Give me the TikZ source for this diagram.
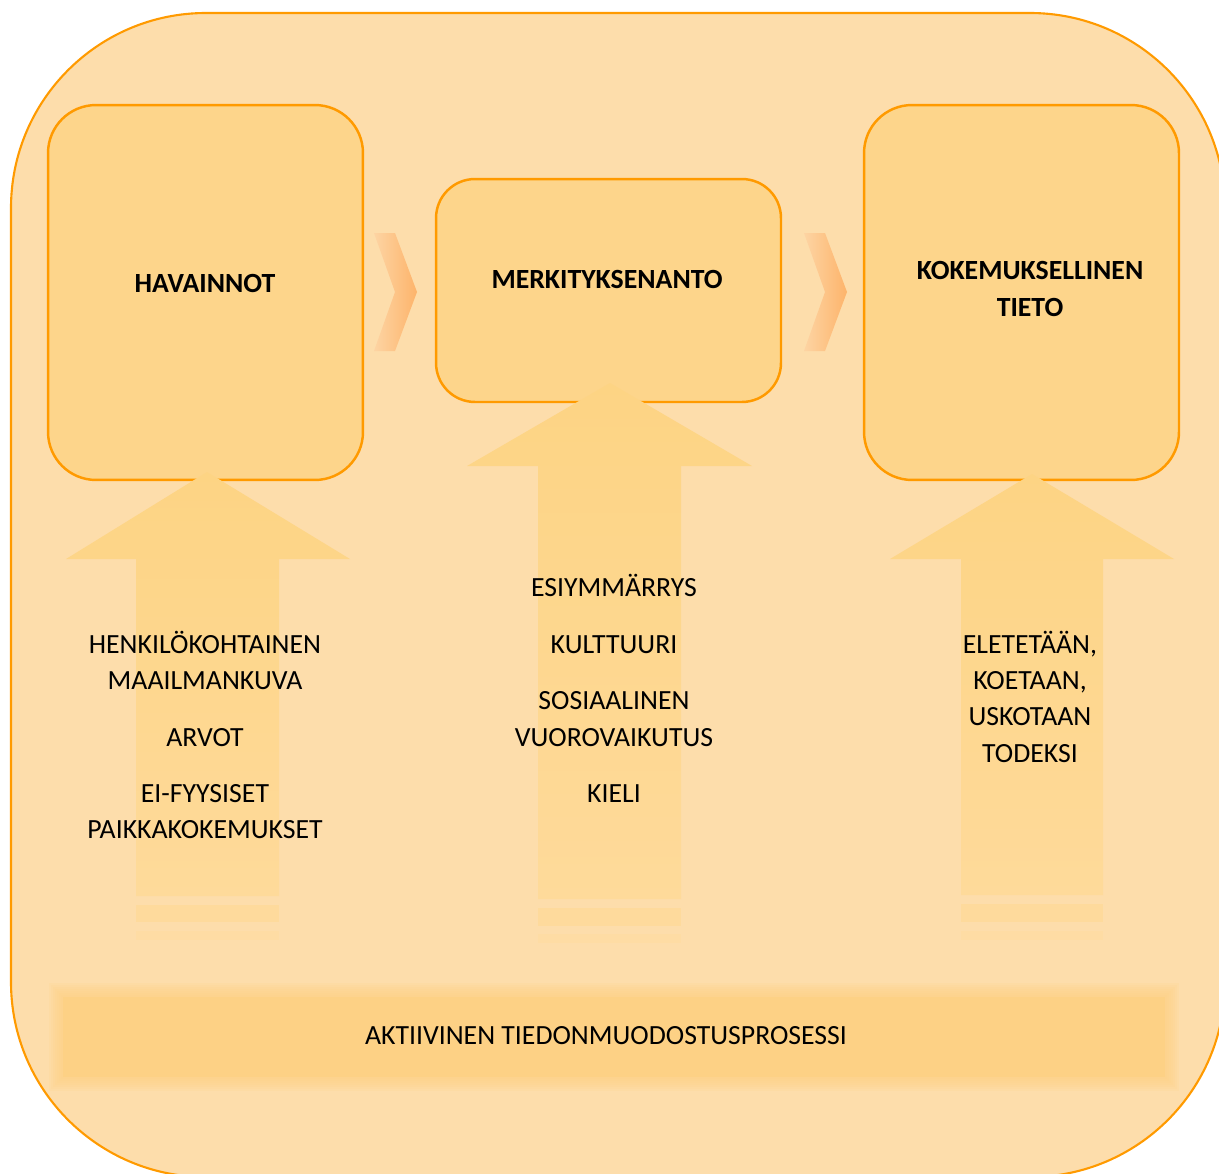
\documentclass[tikz,border=0pt]{standalone}
\usepackage{fontspec}
\setmainfont{Carlito}
\definecolor{peach}{HTML}{FDDDAB}
\definecolor{panelfill}{HTML}{FDD58B}
\definecolor{rim}{HTML}{FF9A00}
\definecolor{shafttop}{HTML}{FDD484}
\definecolor{shaftlow}{HTML}{FEDA9A}
\definecolor{stripeA}{HTML}{FEDA9C}
\definecolor{stripeB}{HTML}{FEDCA4}
\definecolor{barfill}{HTML}{FDD185}
\definecolor{chevL}{HTML}{FDD4A3}
\definecolor{chevR}{HTML}{FDB46B}
\begin{document}
\begin{tikzpicture}[x=0.02cm, y=-0.02cm,
    panel/.style={draw=rim, line width=1.4pt, fill=panelfill, rounded corners=0.96cm, inner sep=0},
    title/.style={font=\fontsize{15.8}{19}\selectfont\bfseries, anchor=base, inner sep=0},
    item/.style={font=\fontsize{15.8}{19}\selectfont, anchor=base, inner sep=0},
    upshaft/.style={top color=shafttop, bottom color=shaftlow, draw=none},
    chevron/.style={left color=chevL, right color=chevR, draw=none}]
        \useasboundingbox (0,0) rectangle (1219,1173);
        \clip (0,0) rectangle (1219,1173);
        % frame
        \draw[draw=rim, line width=1.2pt, fill=peach, rounded corners=3.9cm] (11,13) rectangle (1225,1177);
        % boxes
        \node[panel, minimum width=6.3cm, minimum height=7.5cm] (havbox) at (205.5,292.5) {};
        \node[panel, minimum width=6.9cm, minimum height=4.46cm, rounded corners=0.78cm] (merbox) at (608.5,290.5) {};
        \node[panel, minimum width=6.3cm, minimum height=7.5cm] (kokbox) at (1021.5,292.5) {};
        % chevrons
        \shade[chevron] (374,233) -- (395,233) -- (417,292) -- (395,351) -- (374,351) -- (395,292) -- cycle;
        \shade[chevron] (804,233) -- (825,233) -- (847,292) -- (825,351) -- (804,351) -- (825,292) -- cycle;
        % arrows
        \shade[upshaft] (207,472) -- (350,559) -- (279,559) -- (279,896) -- (136,896) -- (136,559) -- (66,559) -- cycle;
        \fill[stripeA] (136,905) rectangle (279,922);
        \fill[stripeB] (136,931) rectangle (279,940);
        \shade[upshaft] (610,383) -- (752,466) -- (681,466) -- (681,899) -- (538,899) -- (538,466) -- (467,466) -- cycle;
        \fill[stripeA] (538,908) rectangle (681,926);
        \fill[stripeB] (538,934) rectangle (681,943);
        \shade[upshaft] (1032,474) -- (1174,559) -- (1103,559) -- (1103,895) -- (961,895) -- (961,559) -- (890,559) -- cycle;
        \fill[stripeA] (961,904) rectangle (1103,922);
        \fill[stripeB] (961,931) rectangle (1103,940);
        % bar
        \foreach \d in {14,12,10,8,6,4,2}
            \fill[barfill, opacity=0.16] (63-\d,997-\d) rectangle (1165+\d,1077+\d);
        \fill[barfill] (63,997) rectangle (1165,1077);
        % titles
        \node[title] (havainnot) at (205,292) {HAVAINNOT};
        \node[title] (merkitys) at (607,288) {MERKITYKSENANTO};
        \node[title] (kokemus) at (1030,279) {KOKEMUKSELLINEN};
        \node[title] (tieto) at (1030,316) {TIETO};
        % left texts
        \node[item] (henk) at (205,653) {HENKILÖKOHTAINEN};
        \node[item] (maail) at (205,689) {MAAILMANKUVA};
        \node[item] (arvot) at (205,746) {ARVOT};
        \node[item] (eifyys) at (205,802) {EI-FYYSISET};
        \node[item] (paikka) at (205,838) {PAIKKAKOKEMUKSET};
        % middle texts
        \node[item] (esiym) at (614,596) {ESIYMMÄRRYS};
        \node[item] (kult) at (614,653) {KULTTUURI};
        \node[item] (sosi) at (614,709) {SOSIAALINEN};
        \node[item] (vuoro) at (614,746) {VUOROVAIKUTUS};
        \node[item] (kieli) at (614,802) {KIELI};
        % right texts
        \node[item] (elet) at (1030,653) {ELETETÄÄN,};
        \node[item] (koet) at (1030,689) {KOETAAN,};
        \node[item] (usko) at (1030,725) {USKOTAAN};
        \node[item] (todeksi) at (1030,762) {TODEKSI};
        % bottom
        \node[item] (aktiivinen) at (606,1044) {AKTIIVINEN TIEDONMUODOSTUSPROSESSI};
      \end{tikzpicture}
\end{document}
